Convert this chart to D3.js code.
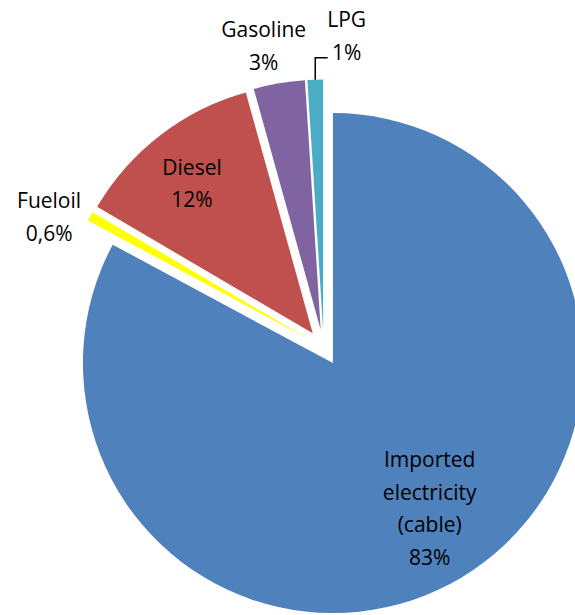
<!DOCTYPE html>
<html>
<head>
<meta charset="utf-8">
<script src="https://cdn.jsdelivr.net/npm/d3@7"></script>
<style>
  html, body { margin: 0; padding: 0; background: #fff; overflow: hidden; }
  svg text { font-family: "Open Sans", Lato, sans-serif; font-size: 21px; fill: #000; }
</style>
</head>
<body>
<div id="chart"></div>
<script>
// Energy sources, share of total (%)
const categories = ['Imported electricity (cable)', 'Fueloil', 'Diesel', 'Gasoline', 'LPG'];
const values = [82.6, 0.6, 12.2, 3.3, 1.0];
const labelLines = [
    ['Imported', 'electricity', '(cable)', '83%'],
    ['Fueloil', '0,6%'],
    ['Diesel', '12%'],
    ['Gasoline', '3%'],
    ['LPG', '1%']
];
const colors = ['#4F81BD', '#FFFF00', '#C0504D', '#8064A2', '#4BACC6'];

const width = 575, height = 615;
const cx = 323.7, cy = 347.6;
const radius = 250;
const explode = 18;
const lineHeight = 32.5;

// label placement: distance from the slice apex and angle shift (degrees)
const labelPlacement = {
    'Imported electricity (cable)': { dist: 175, shift: -2.7 },
    'Fueloil': { dist: 286, shift: -4.2 },
    'Diesel': { dist: 192, shift: -1.4 },
    'Gasoline': { dist: 289, shift: -1.8 },
    'LPG': { dist: 294, shift: 6.4 }
};

const svg = d3.select('#chart')
    .append('svg')
    .attr('width', width)
    .attr('height', height);

const pie = d3.pie().sort(null).value(d => d.value);
const data = pie(categories.map((c, i) => ({ name: c, value: values[i], lines: labelLines[i], color: colors[i] })));

const arc = d3.arc().innerRadius(0).outerRadius(radius);

function polar(angle, r) {
    return [Math.sin(angle) * r, -Math.cos(angle) * r];
}

const slices = svg.selectAll('g.slice')
    .data(data)
    .join('g')
    .attr('class', 'slice')
    .attr('transform', d => {
        const mid = (d.startAngle + d.endAngle) / 2;
        const [dx, dy] = polar(mid, explode);
        d.apex = [cx + dx, cy + dy];
        return `translate(${d.apex[0]},${d.apex[1]})`;
    });

slices.append('path')
    .attr('d', arc)
    .attr('fill', d => d.data.color);

// Labels
data.forEach(d => {
    const mid = (d.startAngle + d.endAngle) / 2;
    const p = labelPlacement[d.data.name];
    const a = mid + p.shift * Math.PI / 180;
    const [lx, ly] = polar(a, p.dist);
    const x = d.apex[0] + lx;
    const y = d.apex[1] + ly;
    const n = d.data.lines.length;
    const text = svg.append('text')
        .attr('text-anchor', 'middle');
    d.data.lines.forEach((line, i) => {
        text.append('tspan')
            .attr('x', x)
            .attr('y', y + (i - (n - 1) / 2) * lineHeight + 7)
            .text(line);
    });

    // leader line for LPG
    if (d.data.name === 'LPG') {
        const [sx, sy] = polar(mid, radius);
        const x0 = d.apex[0] + sx, y0 = d.apex[1] + sy;
        const elbowY = y + (n - 1) / 2 * lineHeight + 5;
        svg.append('path')
            .attr('d', `M${x0},${y0}V${elbowY}H${x - 19}`)
            .attr('fill', 'none')
            .attr('stroke', '#000')
            .attr('stroke-width', 1.5);
    }
});
</script>
</body>
</html>
